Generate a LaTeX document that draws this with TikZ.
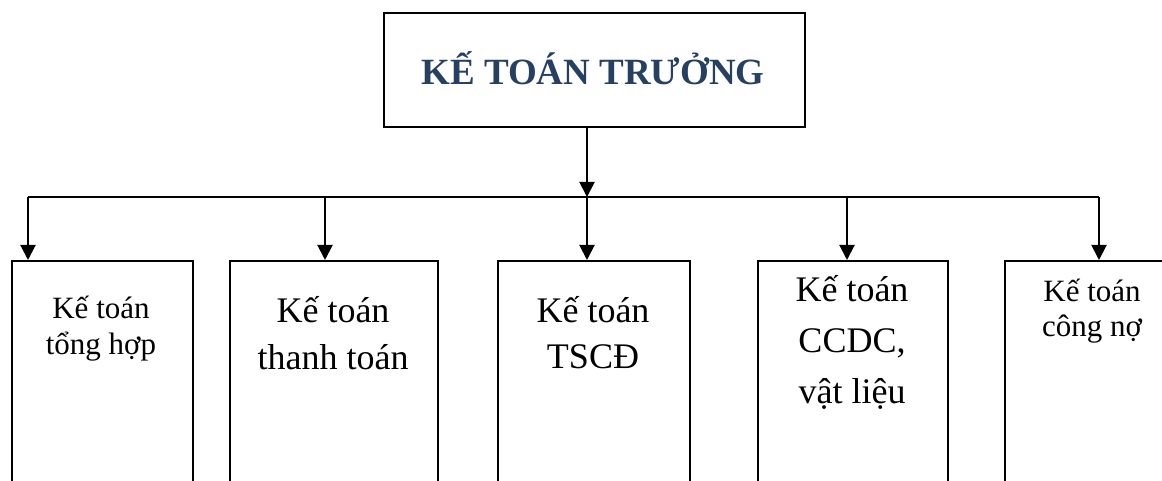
\documentclass[tikz,border=0pt]{standalone}
\usepackage{fontspec}
\setmainfont{Liberation Serif}
\usetikzlibrary{arrows.meta}
\definecolor{titleblue}{RGB}{37,64,97}
\tikzset{
  box/.style={draw=black, line width=2pt, fill=none, inner sep=0pt, anchor=north west},
  arr/.style={line width=2pt, -{Triangle[width=15pt,length=15pt]}},
  bus/.style={line width=2pt},
  title/.style={anchor=base, inner sep=0pt, text=titleblue, font=\fontsize{37}{40}\selectfont\bfseries},
  tsmall/.style={anchor=base, inner sep=0pt, font=\fontsize{31}{34}\selectfont},
  tbig/.style={anchor=base, inner sep=0pt, font=\fontsize{36}{40}\selectfont},
}
\begin{document}
\begin{tikzpicture}[x=1pt,y=-1pt]
\useasboundingbox (0,0) rectangle (1162,481);
\clip (0,0) rectangle (1162,481);
% top box
\node[box, minimum width=421pt, minimum height=114pt] (top) at (383,12) {};
\node[title] (toptext) at (593,85) {KẾ TOÁN TRƯỞNG};
% lower boxes
\node[box, minimum width=181pt, minimum height=300pt] (b1) at (11,260) {};
\node[box, minimum width=208pt, minimum height=300pt] (b2) at (229,260) {};
\node[box, minimum width=192pt, minimum height=300pt] (b3) at (497,260) {};
\node[box, minimum width=190pt, minimum height=300pt] (b4) at (757,260) {};
\node[box, minimum width=176pt, minimum height=300pt] (b5) at (1004,260) {};
% texts
\node[tsmall] (b1a) at (101,318) {Kế toán};
\node[tsmall] (b1b) at (101,354) {tổng hợp};
\node[tbig] (b2a) at (333,322) {Kế toán};
\node[tbig] (b2b) at (333,369) {thanh toán};
\node[tbig] (b3a) at (593,322) {Kế toán};
\node[tbig] (b3b) at (593,368) {TSCĐ};
\node[tbig] (b4a) at (852,301) {Kế toán};
\node[tbig] (b4b) at (852,352) {CCDC,};
\node[tbig] (b4c) at (852,403) {vật liệu};
\node[tsmall] (b5a) at (1092,301) {Kế toán};
\node[tsmall] (b5b) at (1092,336) {công nợ};
% connectors
\coordinate (hub) at (587,197);
\coordinate (j1) at (28,197);
\coordinate (j2) at (325,197);
\coordinate (j3) at (587,197);
\coordinate (j4) at (847,197);
\coordinate (j5) at (1099,197);
\draw[arr] (top.south -| hub) -- (hub);
\draw[bus] (j1) -- (j5);
\draw[arr] (j1) -- (j1 |- b1.north);
\draw[arr] (j2) -- (j2 |- b2.north);
\draw[arr] (j3) -- (j3 |- b3.north);
\draw[arr] (j4) -- (j4 |- b4.north);
\draw[arr] (j5) -- (j5 |- b5.north);
\end{tikzpicture}
\end{document}
